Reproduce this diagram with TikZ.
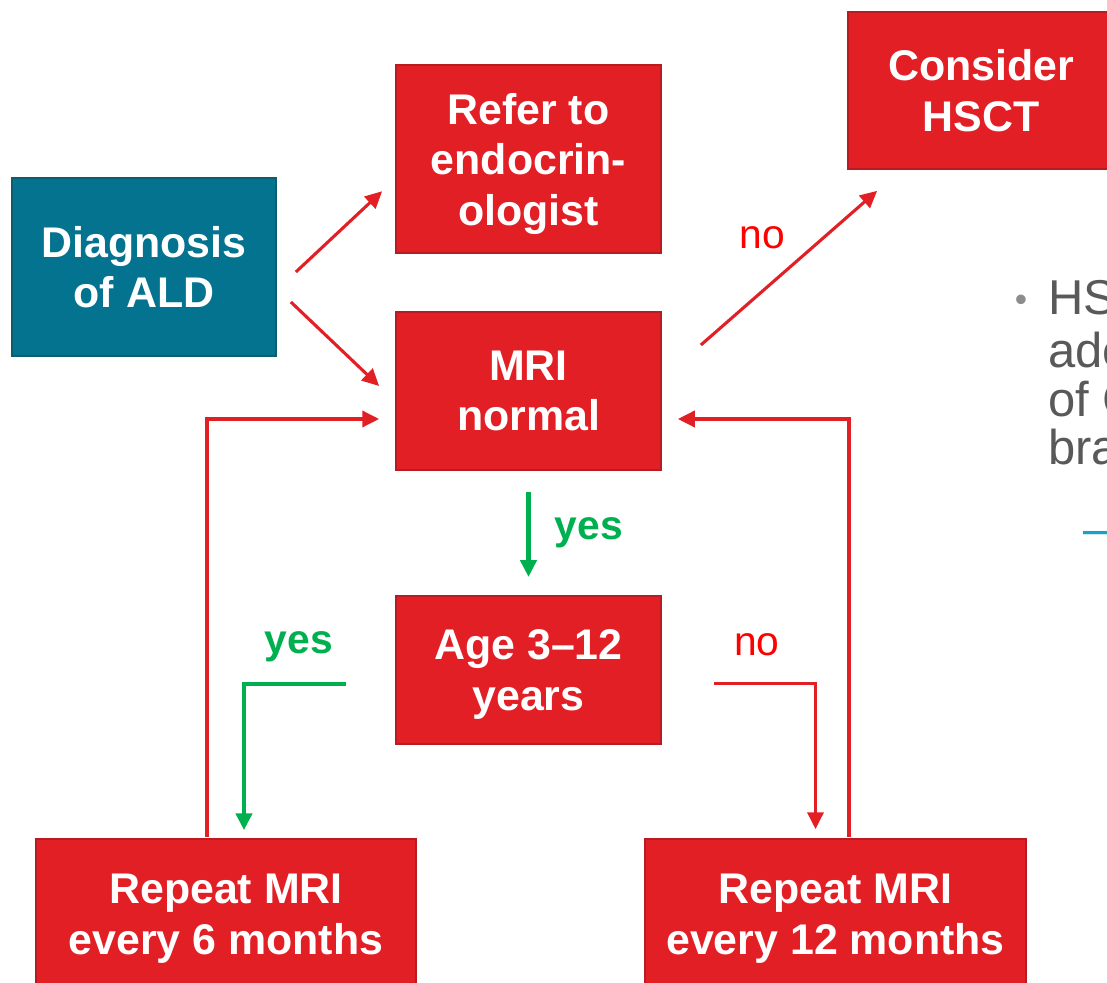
\documentclass[tikz,border=0pt]{standalone}
\usepackage{fontspec}
\setmainfont{Liberation Sans}
\usetikzlibrary{arrows.meta,positioning,calc}
\definecolor{boxred}{HTML}{E31F26}
\definecolor{boxredline}{HTML}{B81B21}
\definecolor{boxteal}{HTML}{04738F}
\definecolor{boxtealline}{HTML}{0B5D70}
\definecolor{yesgreen}{HTML}{00B050}
\definecolor{nored}{HTML}{FF0000}
\definecolor{slidegrey}{HTML}{595959}
\definecolor{dotgrey}{HTML}{8C8C8C}
\definecolor{dashblue}{HTML}{1BA1C9}
\newcommand{\boxfont}{\bfseries\fontsize{30.5}{36}\selectfont}
\newcommand{\labelfont}{\fontsize{29}{34}\selectfont}
\begin{document}
\begin{tikzpicture}[x=0.025cm,y=-0.025cm,>={Triangle[length=12pt,width=11.5pt]},
redbox/.style={draw=boxredline,fill=boxred,line width=1.2pt,text=white,font=\boxfont,align=center,inner sep=0pt,minimum width=6.625cm},
tealbox/.style={redbox,draw=boxtealline,fill=boxteal},
redarrow/.style={->,color=boxred,line width=2.2pt},
greenarrow/.style={->,color=yesgreen,line width=2.9pt},
nolabel/.style={text=nored,font=\labelfont,anchor=base,inner sep=0pt},
yeslabel/.style={text=yesgreen,font=\labelfont\bfseries,anchor=base,inner sep=0pt},
slidetext/.style={text=slidegrey,font=\fontsize{34.8}{40}\selectfont,anchor=base west,inner sep=0pt}]
\useasboundingbox (0,0) rectangle (1107,983);
\node[redbox,minimum height=3.95cm] (mri) at (528.5,391) {MRI\\normal};
\node[redbox,minimum height=4.7cm,above=1.425cm of mri] (refer) {Refer to\\endocrin-\\\smash{ologist}};
\node[redbox,minimum height=3.7cm,below=3.1cm of mri] (age) {Age 3–12\\\smash{years}};
\node[tealbox,minimum width=6.6cm,minimum height=4.45cm] (diag) at (144,267) {Diagnosis\\of ALD};
\node[redbox,minimum width=6.65cm,minimum height=3.925cm] (hsct) at (981,90.5) {Consider\\HSCT};
\node[redbox,minimum width=9.5cm,minimum height=3.775cm] (rep6) at (226,914.5) {Repeat MRI\\\smash{every 6 months}};
\node[redbox,minimum width=9.525cm,minimum height=3.775cm] (rep12) at (835.5,914.5) {Repeat MRI\\\smash{every 12 months}};
\node[nolabel] (nohsct) at (762,249) {no};
\node[yeslabel] (yesage) at (589,540) {yes};
\node[yeslabel] (yes6) at (299,654) {yes};
\node[nolabel] (no12) at (757,656) {no};
\draw[redarrow] ($(diag.east)+(19,5)$)--($(refer.west)+(-13,32)$);
\draw[redarrow] ($(diag.east)+(14,35)$)--($(mri.west)+(-16,-5)$);
\draw[redarrow] ($(mri.east)+(39,-46)$)--($(hsct.south west)+(30,21)$);
\draw[greenarrow] ($(mri.south)+(0,21)$)--($(age.north)+(0,-18)$);
\draw[greenarrow] ($(age.west)+(-49,14)$)-|($(rep6.north)+(18,-8)$);
\draw[redarrow] ($(age.east)+(52,14)$)-|($(rep12.north)+(-20,-9)$);
\draw[redarrow] ($(rep6.north)+(-19,-1)$)|-($(mri.west)+(-16,28)$);
\draw[redarrow] ($(rep12.north)+(13.5,-1)$)|-($(mri.east)+(16,28)$);
\node[text=dotgrey,font=\fontsize{25}{30}\selectfont,inner sep=0pt] (dot) at (1021,303) {•};
\node[slidetext] (line1) at (1048,315) {HS};
\node[slidetext] (line2) at (1048,368) {ade};
\node[slidetext] (line3) at (1048,417) {of C};
\node[slidetext] (line4) at (1048,465) {bra};
\node[text=dashblue,font=\fontsize{34.8}{40}\selectfont,inner sep=0pt,anchor=west] (dash) at (1083,538) {–};
\end{tikzpicture}
\end{document}
